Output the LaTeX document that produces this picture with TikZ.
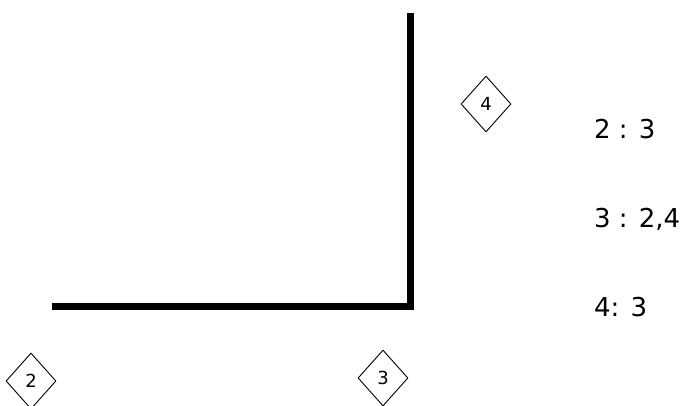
\documentclass[tikz,border=0pt]{standalone}
\usepackage{fontspec}
\setmainfont{DejaVu Sans}
\usetikzlibrary{shapes.geometric}
\begin{document}
\begin{tikzpicture}[x=1pt,y=-1pt,
  vert/.style={draw=black, line width=0.9pt, diamond, minimum width=50pt, minimum height=56pt, inner sep=0pt, font=\fontsize{18}{20}\selectfont},
  wall/.style={line width=7.5pt, line cap=butt},
  lbl/.style={anchor=base west, inner sep=0pt, font=\fontsize{26}{28}\selectfont}]
\useasboundingbox (0,0) rectangle (689,405);
\node[vert] (v2) at (31,381) {2};
\node[vert] (v3) at (383,378) {3};
\node[vert] (v4) at (486,104) {4};
\coordinate (a) at (52,306.5);
\coordinate (b) at (410.5,306.5);
\coordinate (c) at (410.5,13);
\draw[wall] (a) -- ([xshift=3.75pt]b);
\draw[wall] ([yshift=-3.75pt]b) -- (c);
\node[lbl] (t1) at (594,138) {2 : 3};
\node[lbl] (t2) at (594,227) {3 : 2,4};
\node[lbl] (t3) at (594,316) {4: 3};
\end{tikzpicture}
\end{document}
